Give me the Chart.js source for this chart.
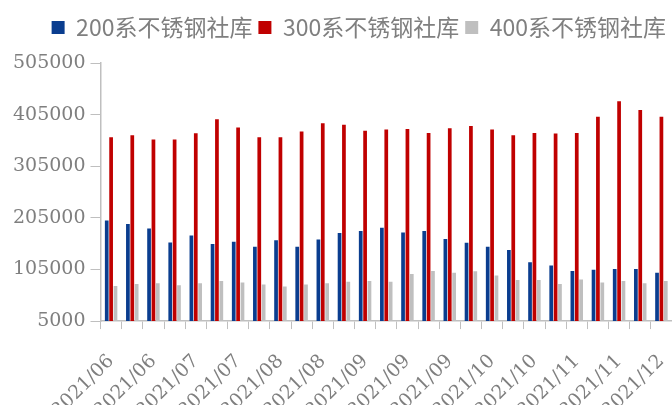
<!DOCTYPE html>
<html>
<head>
<meta charset="utf-8">
<script src="https://cdn.jsdelivr.net/npm/chart.js@4"></script>
<style>
  html, body { margin: 0; padding: 0; background: #fff; overflow: hidden; width: 672px; height: 405px; }
  #wrap { width: 672px; height: 443px; position: relative; }
</style>
</head>
<body>
<div id="wrap"><canvas id="c"></canvas></div>
<script>
const categories = [
  "2021/06/10","2021/06/17","2021/06/24","2021/07/01","2021/07/08","2021/07/15","2021/07/22",
  "2021/07/29","2021/08/05","2021/08/12","2021/08/19","2021/08/26","2021/09/02","2021/09/09",
  "2021/09/16","2021/09/23","2021/09/30","2021/10/07","2021/10/14","2021/10/21","2021/10/28",
  "2021/11/04","2021/11/11","2021/11/18","2021/11/25","2021/12/02","2021/12/09"
];
const series200 = [200000,193000,184500,157000,171000,154500,158500,149000,161500,149000,163000,175500,179500,186000,176500,179500,164000,156500,149000,142500,119000,112500,102000,104500,106000,106000,98500];
const series300 = [361000,365000,357000,357000,369000,396000,380000,361000,361000,372500,388500,385500,373500,376000,377000,369500,378500,383000,376000,365000,369500,368500,369500,401000,431000,414000,401000];
const series400 = [73000,77000,78500,74500,78500,82500,79500,76000,72000,76000,78500,81000,82500,81000,96000,102000,98500,101500,93500,84500,84500,77000,85500,79500,82500,78500,82500];
const seriesNames = ["200系不锈钢社库","300系不锈钢社库","400系不锈钢社库"];
const yTicks = [5000,105000,205000,305000,405000,505000];

const gray = "#bfbfbf";
const textGray = "#7f7f7f";
const serifFamily = "DejaVu Serif";

const legendGap = {
  id: "legendGap",
  beforeInit(chart) {
    const fit = chart.legend.fit;
    chart.legend.fit = function() { fit.call(this); this.height += 14; };
  }
};

function draw() {
  new Chart(document.getElementById("c"), {
    type: "bar",
    data: {
      labels: categories,
      datasets: [
        { label: seriesNames[0], data: series200, backgroundColor: "#0a3d8f" },
        { label: seriesNames[1], data: series300, backgroundColor: "#c00000" },
        { label: seriesNames[2], data: series400, backgroundColor: "#bfbfbf" }
      ]
    },
    plugins: [legendGap],
    options: {
      responsive: true,
      maintainAspectRatio: false,
      animation: false,
      devicePixelRatio: 1,
      datasets: { bar: { categoryPercentage: 0.62, barPercentage: 0.85 } },
      layout: { padding: { left: 8, right: 0, top: 10, bottom: 0 } },
      plugins: {
        tooltip: { enabled: false },
        legend: {
          position: "top",
          align: "end",
          labels: {
            boxWidth: 13, boxHeight: 13, padding: 6,
            color: textGray,
            font: { family: "'Noto Sans CJK SC', 'Noto Sans', sans-serif", size: 23 }
          }
        }
      },
      scales: {
        x: {
          afterFit: function(scale) { scale.paddingRight = 0; },
          grid: { display: true, drawOnChartArea: false, drawTicks: true, tickLength: 8, color: gray, offset: true },
          border: { display: true, color: gray, width: 1.5 },
          ticks: {
            autoSkip: false, minRotation: 45, maxRotation: 45, padding: 21,
            color: textGray,
            font: { family: serifFamily, size: 19 },
            callback: function(v, i) { return i % 2 === 0 ? categories[i].slice(0, 7) : ""; }
          }
        },
        y: {
          min: 5000, max: 505000,
          afterBuildTicks: function(scale) { scale.ticks = yTicks.map(v => ({ value: v })); },
          grid: { display: true, drawOnChartArea: false, drawTicks: true, tickLength: 10, color: gray },
          border: { display: true, color: gray, width: 1.5 },
          ticks: {
            padding: 5, color: textGray,
            font: { family: serifFamily, size: 19 },
            callback: function(v) { return String(v); }
          }
        }
      }
    }
  });
}
draw();
</script>
</body>
</html>
